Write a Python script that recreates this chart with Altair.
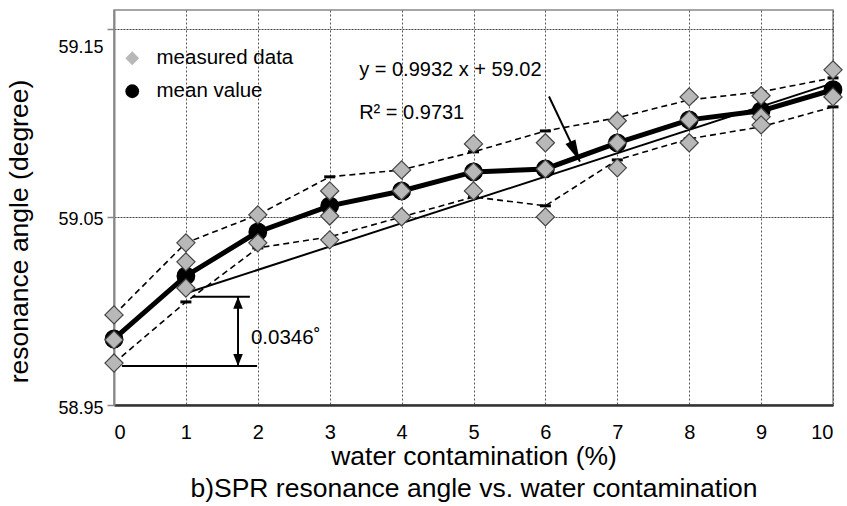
import altair as alt
import pandas as pd

FONT = "Liberation Sans"

# ---- data ----
water = [0, 1, 2, 3, 4, 5, 6, 7, 8, 9, 10]
mean_vals = [58.9851, 59.0186, 59.0420, 59.0559, 59.0638, 59.0739, 59.0755, 59.0894, 59.1016, 59.1064, 59.1176]
upper_vals = [58.9979, 59.0362, 59.0511, 59.0713, 59.0750, 59.0846, 59.0957, 59.1027, 59.1122, 59.1165, 59.1239]
lower_vals = [58.9723, 59.0048, 59.0335, 59.0394, 59.0500, 59.0606, 59.0559, 59.0803, 59.0915, 59.0979, 59.1085]

meas_x = [0, 0, 0, 1, 1, 1, 2, 2, 3, 3, 3, 4, 4, 4, 5, 5, 5, 6, 6, 6, 7, 7, 7, 8, 8, 8, 9, 9, 9, 10, 10]
meas_y = [58.9979, 58.9846, 58.9723,
          59.0362, 59.0261, 59.0122,
          59.0511, 59.0362,
          59.0638, 59.0505, 59.0378,
          59.0750, 59.0638, 59.0500,
          59.0888, 59.0739, 59.0638,
          59.0894, 59.0755, 59.0500,
          59.1011, 59.0894, 59.0761,
          59.1138, 59.1016, 59.0894,
          59.1144, 59.1032, 59.0989,
          59.1282, 59.1138]

trend_x = [1, 10]
trend_y = [59.0094, 59.1211]

eq_text = ["y = 0.9932 x + 59.02", "R\u00b2 = 0.9731"]
eq_x = [3.41, 3.41]
eq_y = [59.125, 59.1021]

arrow_x = [6.05, 6.48]
arrow_y = [59.114, 59.0794]

dim_x1 = [1.085, 0.11]
dim_x2 = [1.89, 1.99]
dim_y = [59.0076, 58.9707]
dim_arrow_x = 1.725
dim_label = "0.0346\u02da"
dim_label_x = 1.905
dim_label_y = 58.9824

series_names = ["measured data", "mean value"]

# ---- tables ----
df_band = pd.DataFrame({"water": water, "mean": mean_vals, "upper": upper_vals, "lower": lower_vals,
                        "series": ["mean value"] * len(water)})
df_meas = pd.DataFrame({"water": meas_x, "value": meas_y, "series": ["measured data"] * len(meas_x)})
df_trend = pd.DataFrame({"water": trend_x, "value": trend_y})
df_eq = pd.DataFrame({"x": eq_x, "y": eq_y, "text": eq_text})
df_arrow = pd.DataFrame({"x": [arrow_x[0]], "y": [arrow_y[0]], "x2": [arrow_x[1]], "y2": [arrow_y[1]]})
df_arrow_head = pd.DataFrame({"x": [arrow_x[1]], "y": [arrow_y[1]]})
df_dim = pd.DataFrame({"x": dim_x1, "x2": dim_x2, "y": dim_y})
df_dim_v = pd.DataFrame({"x": [dim_arrow_x], "y": [dim_y[0]], "y2": [dim_y[1]]})
df_dim_top = pd.DataFrame({"x": [dim_arrow_x], "y": [dim_y[0]]})
df_dim_bot = pd.DataFrame({"x": [dim_arrow_x], "y": [dim_y[1]]})
df_dim_lab = pd.DataFrame({"x": [dim_label_x], "y": [dim_label_y], "text": [dim_label]})

x_scale = alt.Scale(domain=[0, 10], nice=False, zero=False)
y_scale = alt.Scale(domain=[58.95, 59.16], nice=False, zero=False)

x_axis = alt.Axis(
    values=water, format="d", grid=True, gridColor="#555", gridDash=[2, 2], gridWidth=1,
    tickSize=0, labelPadding=33, labelBaseline="alphabetic", labelFontSize=20, labelFont=FONT,
    labelColor="black", domainColor="#333", domainWidth=2.5,
    title=["water contamination (%)", "b)SPR resonance angle vs. water contamination"],
    titleFont=FONT, titleFontSize=26.5, titleFontWeight="normal", titleColor="black",
    titleBaseline="alphabetic", titleY=59, titleLineHeight=32,
)
y_axis = alt.Axis(
    values=[58.95, 59.05, 59.15], format=".2f", grid=True, gridColor="#444", gridDash=[2, 1],
    gridWidth=1.2, tickSize=7, tickColor="#888", tickWidth=1.5, labelPadding=4,
    labelFontSize=18, labelFont=FONT, labelColor="black",
    labelOffset={"condition": {"test": "datum.value > 59.1", "value": 19}, "value": 3},
    domainColor="#888", domainWidth=2,
    title="resonance angle (degree)", titleFont=FONT, titleFontSize=26.5, titleFontWeight="normal",
    titleColor="black", titleAngle=270, titleX=-87, titleY=221, titleAlign="center",
    titleBaseline="alphabetic",
)

legend = alt.Legend(title=None, orient="none", legendX=8, legendY=38, labelFont=FONT,
                    labelFontSize=20.5, labelColor="black", symbolSize=190, rowPadding=12,
                    labelOffset=14, padding=0, symbolStrokeColor="black", symbolStrokeWidth=1)
shape_enc = alt.Shape("series:N", scale=alt.Scale(domain=series_names, range=["diamond", "circle"]), legend=legend)
fill_enc = alt.Fill("series:N", scale=alt.Scale(domain=series_names, range=["#b8b8b8", "black"]), legend=legend)

X = alt.X("water:Q", scale=x_scale, axis=x_axis)

upper_line = alt.Chart(df_band).mark_line(color="black", strokeDash=[6, 4], strokeWidth=1.6).encode(
    x=X, y=alt.Y("upper:Q", scale=y_scale, axis=y_axis))
lower_line = alt.Chart(df_band).mark_line(color="black", strokeDash=[6, 4], strokeWidth=1.6).encode(
    x=X, y=alt.Y("lower:Q", scale=y_scale))
upper_cap = alt.Chart(df_band).mark_tick(orient="horizontal", size=11, thickness=3, color="black", opacity=1).encode(
    x=X, y=alt.Y("upper:Q", scale=y_scale))
lower_cap = alt.Chart(df_band).mark_tick(orient="horizontal", size=11, thickness=3, color="black", opacity=1).encode(
    x=X, y=alt.Y("lower:Q", scale=y_scale))
trend = alt.Chart(df_trend).mark_line(color="black", strokeWidth=2).encode(
    x=X, y=alt.Y("value:Q", scale=y_scale))
mean_line = alt.Chart(df_band).mark_line(color="black", strokeWidth=5).encode(
    x=X, y=alt.Y("mean:Q", scale=y_scale))
mean_pts = alt.Chart(df_band).mark_point(filled=True, size=300, stroke="black", strokeWidth=1.5, opacity=1).encode(
    x=X, y=alt.Y("mean:Q", scale=y_scale), shape=shape_enc, fill=fill_enc)
meas_pts = alt.Chart(df_meas).mark_point(filled=True, size=330, stroke="#444", strokeWidth=1.2, opacity=1).encode(
    x=X, y=alt.Y("value:Q", scale=y_scale), shape=shape_enc, fill=fill_enc)

eq = alt.Chart(df_eq).mark_text(align="left", baseline="alphabetic", font=FONT, fontSize=20, color="black").encode(
    x=alt.X("x:Q", scale=x_scale), y=alt.Y("y:Q", scale=y_scale), text="text:N")
arrow = alt.Chart(df_arrow).mark_rule(color="black", strokeWidth=2).encode(
    x=alt.X("x:Q", scale=x_scale), y=alt.Y("y:Q", scale=y_scale), x2="x2:Q", y2="y2:Q")
arrow_head = alt.Chart(df_arrow_head).mark_point(
    shape="M0,0L-0.25,-1L0.25,-1Z", filled=True, size=1936, color="black", opacity=1, angle=334.5, strokeWidth=0
).encode(x=alt.X("x:Q", scale=x_scale), y=alt.Y("y:Q", scale=y_scale))

dim_lines = alt.Chart(df_dim).mark_rule(color="black", strokeWidth=2).encode(
    x=alt.X("x:Q", scale=x_scale), x2="x2:Q", y=alt.Y("y:Q", scale=y_scale))
dim_v = alt.Chart(df_dim_v).mark_rule(color="black", strokeWidth=2).encode(
    x=alt.X("x:Q", scale=x_scale), y=alt.Y("y:Q", scale=y_scale), y2="y2:Q")
dim_top = alt.Chart(df_dim_top).mark_point(
    shape="M0,0L-0.4,1L0.4,1Z", filled=True, size=576, color="black", opacity=1, strokeWidth=0
).encode(x=alt.X("x:Q", scale=x_scale), y=alt.Y("y:Q", scale=y_scale))
dim_bot = alt.Chart(df_dim_bot).mark_point(
    shape="M0,0L-0.4,-1L0.4,-1Z", filled=True, size=576, color="black", opacity=1, strokeWidth=0
).encode(x=alt.X("x:Q", scale=x_scale), y=alt.Y("y:Q", scale=y_scale))
dim_lab = alt.Chart(df_dim_lab).mark_text(align="left", baseline="alphabetic", font=FONT, fontSize=20.5, color="black").encode(
    x=alt.X("x:Q", scale=x_scale), y=alt.Y("y:Q", scale=y_scale), text="text:N")

chart = alt.layer(
    upper_line, lower_line, upper_cap, lower_cap, trend, mean_line, mean_pts, meas_pts,
    eq, arrow, arrow_head, dim_lines, dim_v, dim_top, dim_bot, dim_lab,
).properties(
    width=719, height=395,
    padding={"left": 114, "top": 10, "right": 14, "bottom": 101},
    autosize=alt.AutoSizeParams(type="none"),
    background="white",
).configure_view(stroke="#888", strokeWidth=1.5)

chart.save("out.html", embed_options={"renderer": "svg", "actions": False})
